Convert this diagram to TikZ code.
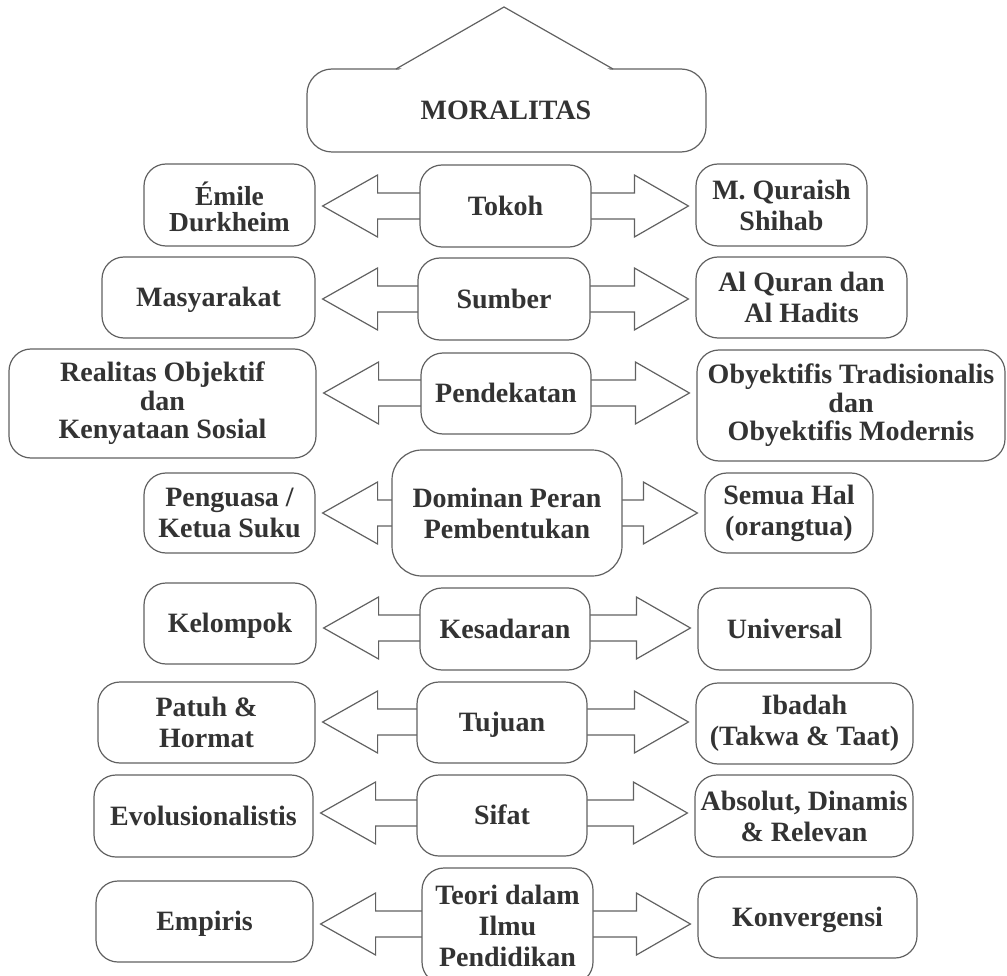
\documentclass[tikz,border=0pt]{standalone}
\usepackage{fontspec}
\setmainfont{Liberation Serif}
\usetikzlibrary{calc}
\tikzset{
  line/.style={draw=black!62, line width=1.2pt},
  box/.style={line, rounded corners=22pt, fill=white, align=center, inner sep=0pt,
    text=black!80, font=\bfseries\fontsize{28}{31}\selectfont},
  one/.style={text height=18.5pt, text depth=0pt},
  tight/.style={font=\bfseries\fontsize{27.5}{25.5}\selectfont},
  three/.style={font=\bfseries\fontsize{28}{28.5}\selectfont},
  arrowbody/.style={line, fill=white, line join=miter},
}
\newcommand\dblarrow[3]{%
  \draw[arrowbody] let \p1=(#2.east), \p2=(#3.west), \p3=(0,#1) in
   (\x1+7pt,\y3) -- (\x1+62pt,\y3+31pt) -- (\x1+62pt,\y3+13pt) -- (\x2-61pt,\y3+13pt)
   -- (\x2-61pt,\y3+31pt) -- (\x2-7pt,\y3) -- (\x2-61pt,\y3-31pt) -- (\x2-61pt,\y3-13pt)
   -- (\x1+62pt,\y3-13pt) -- (\x1+62pt,\y3-31pt) -- cycle;
}
\begin{document}
\begin{tikzpicture}[x=1pt,y=-1pt]
\useasboundingbox (0,0) rectangle (1007,976);
\clip (0,0) rectangle (1007,976);
% top house
\draw[line, fill=white, rounded corners=25pt] (307,69) rectangle (706,152);
\fill[white] (397,71) -- (504,8.5) -- (612,71) -- cycle;
\draw[line, line join=miter] (396,69) -- (504,7) -- (613,69);
\node[box, one, draw=none, fill=none] (moralitas) at (506,110) {MORALITAS};

% left boxes
\node[box, minimum width=171pt, minimum height=82pt] (emilebox) at (229.5,205) {};
\node[box, tight, draw=none, fill=none] (emile) at (229.5,207) {Émile\\Durkheim};
\node[box, one, minimum width=213pt, minimum height=81pt] (masy) at (208.5,297.5) {Masyarakat};
\node[box, three, minimum width=307pt, minimum height=109pt] (realitas) at (162.5,403.5) {Realitas Objektif\\dan\\Kenyataan Sosial};
\node[box, minimum width=171pt, minimum height=80pt] (penguasa) at (229.5,513) {Penguasa /\\Ketua Suku};
\node[box, one, minimum width=172pt, minimum height=81pt] (kelompok) at (230,623.5) {Kelompok};
\node[box, minimum width=217pt, minimum height=81pt] (patuh) at (206.5,722.5) {Patuh \&\\Hormat};
\node[box, one, minimum width=219pt, minimum height=82pt] (evol) at (203.5,816) {Evolusionalistis};
\node[box, one, minimum width=217pt, minimum height=81pt] (empiris) at (204.5,921.5) {Empiris};

% right boxes
\node[box, minimum width=171pt, minimum height=82pt] (quraish) at (781.5,205) {M. Quraish\\Shihab};
\node[box, minimum width=211pt, minimum height=81pt] (quran) at (801.5,297.5) {Al Quran dan\\Al Hadits};
\node[box, three, minimum width=308pt, minimum height=111pt] (obyek) at (851,405.5) {Obyektifis Tradisionalis\\dan\\Obyektifis Modernis};
\node[box, minimum width=168pt, minimum height=80pt] (semua) at (789,513) {Semua Hal\\(orangtua)};
\node[box, one, minimum width=173pt, minimum height=82pt] (universal) at (784.5,629) {Universal};
\node[box, minimum width=217pt, minimum height=81pt] (ibadah) at (804.5,723.5) {Ibadah\\(Takwa \& Taat)};
\node[box, minimum width=218pt, minimum height=82pt] (absolut) at (804,816) {Absolut, Dinamis\\\& Relevan};
\node[box, one, minimum width=219pt, minimum height=81pt] (konv) at (807.5,917.5) {Konvergensi};

% double arrows
\dblarrow{206}{emilebox}{quraish}
\dblarrow{299}{masy}{quran}
\dblarrow{393}{realitas}{obyek}
\dblarrow{513}{penguasa}{semua}
\dblarrow{628}{kelompok}{universal}
\dblarrow{722}{patuh}{ibadah}
\dblarrow{813}{evol}{absolut}
\dblarrow{924}{empiris}{konv}

% centre boxes
\node[box, one, minimum width=171pt, minimum height=82pt] (tokoh) at (505.5,206) {Tokoh};
\node[box, one, minimum width=172pt, minimum height=82pt] (sumber) at (504,299) {Sumber};
\node[box, one, minimum width=170pt, minimum height=81pt] (pendekatan) at (506,393.5) {Pendekatan};
\node[box, rounded corners=30pt, minimum width=230pt, minimum height=126pt] (dominan) at (507,513) {Dominan Peran\\Pembentukan};
\node[box, one, minimum width=170pt, minimum height=82pt] (kesadaran) at (505,629) {Kesadaran};
\node[box, one, minimum width=170pt, minimum height=81pt] (tujuan) at (502,722.5) {Tujuan};
\node[box, one, minimum width=170pt, minimum height=81pt] (sifat) at (502,815.5) {Sifat};
\node[box, minimum width=171pt, minimum height=116pt] (teori) at (507.5,926) {Teori dalam\\Ilmu\\Pendidikan};
\end{tikzpicture}
\end{document}
